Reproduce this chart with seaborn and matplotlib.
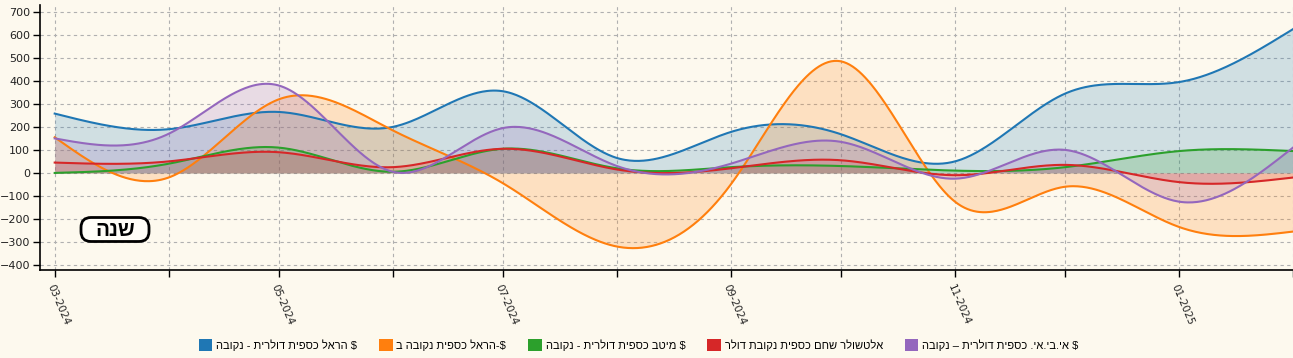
import numpy as np
import pandas as pd
import matplotlib
matplotlib.use("Agg")
import matplotlib.pyplot as plt
from matplotlib.patches import Patch, FancyBboxPatch
import seaborn as sns

# ---------------- data ----------------
months = ["2024-03-01", "2024-04-01", "2024-05-01", "2024-06-01", "2024-07-01", "2024-08-01",
          "2024-09-01", "2024-10-01", "2024-11-01", "2024-12-01", "2025-01-01", "2025-02-01"]
tick_labels = ["03-2024", "", "05-2024", "", "07-2024", "", "09-2024", "", "11-2024", "", "01-2025", ""]

series_names = [
    "הראל כספית דולרית - נקובה $",
    "הראל כספית נקובה ב-$",
    "מיטב כספית דולרית - נקובה $",
    "אלטשולר שחם כספית נקובת דולר",
    "אי.בי.אי. כספית דולרית – נקובה $",
]
harel_usd = [258, 190, 265, 200, 355, 65, 178, 168, 50, 345, 395, 625]
harel_b = [155, -20, 320, 185, -45, -320, -50, 485, -125, -60, -235, -255]
meitav = [0, 40, 110, 5, 105, 20, 25, 30, 10, 25, 95, 95]
altshuler = [45, 50, 90, 25, 105, 15, 20, 55, -10, 35, -40, -20]
ibi = [150, 170, 380, 5, 195, 30, 40, 135, -25, 100, -125, 110]
values = [harel_usd, harel_b, meitav, altshuler, ibi]
colors = ["#1f77b4", "#ff7f0e", "#2ca02c", "#d62728", "#9467bd"]
badge_text = "שנה"


def visual(s):
    """matplotlib draws left-to-right: give Hebrew in visual order (LTR base)."""
    tail = ""
    for t in (" $", "-$"):
        if s.endswith(t):
            s, tail = s[: -len(t)], t
            break
    return s[::-1] + tail


def natural_spline(x, y, xs):
    x = np.asarray(x, float)
    y = np.asarray(y, float)
    n = len(x)
    h = np.diff(x)
    A = np.zeros((n, n))
    b = np.zeros(n)
    A[0, 0] = 1
    A[-1, -1] = 1
    for i in range(1, n - 1):
        A[i, i - 1] = h[i - 1]
        A[i, i] = 2 * (h[i - 1] + h[i])
        A[i, i + 1] = h[i]
        b[i] = 3 * ((y[i + 1] - y[i]) / h[i] - (y[i] - y[i - 1]) / h[i - 1])
    c = np.linalg.solve(A, b)
    bb = (y[1:] - y[:-1]) / h - h * (2 * c[:-1] + c[1:]) / 3
    d = (c[1:] - c[:-1]) / (3 * h)
    idx = np.clip(np.searchsorted(x, xs) - 1, 0, n - 2)
    dx = xs - x[idx]
    return y[idx] + bb[idx] * dx + c[idx] * dx ** 2 + d[idx] * dx ** 3


dates = pd.to_datetime(months)
start = dates[0]
xd = np.array([(d - start).days for d in dates], float)
xs = np.linspace(xd[0], xd[-1], 800)
xs_dates = start + pd.to_timedelta(xs, unit="D")

rows = []
smooth = []
for name, vals in zip(series_names, values):
    ys = natural_spline(xd, vals, xs)
    smooth.append(ys)
    rows.append(pd.DataFrame({"date": xs_dates, "value": ys, "series": name}))
df = pd.concat(rows, ignore_index=True)

# ---------------- figure ----------------
bg = "#fdf9ee"
fig = plt.figure(figsize=(12.93, 3.58), dpi=100, facecolor=bg)
ax = fig.add_axes([40 / 1293, 1 - 270 / 358, 1 - 40 / 1293, (270 - 5) / 358])
ax.set_facecolor(bg)

for ys, col in zip(smooth, colors):
    ax.fill_between(xs_dates, 0, ys, color=col, alpha=0.2, linewidth=0, zorder=2)

sns.lineplot(data=df, x="date", y="value", hue="series", palette=dict(zip(series_names, colors)),
             legend=False, ax=ax, linewidth=1.5, zorder=3, estimator=None, sort=False)

ax.set_ylim(-422, 730)
ax.set_xlim(start - pd.Timedelta(days=4), dates[-1])
ax.set_yticks(np.arange(-400, 701, 100))
ax.set_xticks(dates)
ax.set_xticklabels(tick_labels, rotation=-67, ha="left", va="top", rotation_mode="anchor",
                   fontsize=7.5, color="#222")
ax.tick_params(axis="y", labelsize=8, colors="#000", labelcolor="#222", length=5, width=1, pad=2)
ax.tick_params(axis="x", length=5, width=1, pad=4)
ax.set_xlabel("")
ax.set_ylabel("")
ax.grid(True, color="#b0b0b0", linestyle=(0, (3, 3)), linewidth=0.8, zorder=0)
ax.set_axisbelow(True)
for s in ("top", "right"):
    ax.spines[s].set_visible(False)
for s in ("left", "bottom"):
    ax.spines[s].set_linewidth(1.2)
    ax.spines[s].set_color("#000")

# badge "שנה"
badge = FancyBboxPatch((0.81, 1.165), 0.68, 0.24, boxstyle="round,pad=0,rounding_size=0.1",
                       transform=fig.dpi_scale_trans, facecolor="#fffdf7", edgecolor="#000",
                       linewidth=2, zorder=5)
ax.add_patch(badge)
badge.set_clip_on(False)
ax.text(1.15, 1.28, visual(badge_text), transform=fig.dpi_scale_trans, ha="center", va="center",
        fontsize=15, fontweight="bold", family=["Liberation Sans", "DejaVu Sans"], zorder=6)

handles = [Patch(facecolor=c, edgecolor="none") for c in colors]
labels = [visual(n) for n in series_names]
fig.legend(handles, labels, loc="center", bbox_to_anchor=(0.494, 0.036), ncol=5, frameon=False,
           prop={"family": ["Liberation Sans", "DejaVu Sans"], "size": 8},
           handlelength=1.2, handleheight=1.2, handletextpad=0.35, columnspacing=2.0)

fig.savefig("out.png", dpi=100, facecolor=bg)
